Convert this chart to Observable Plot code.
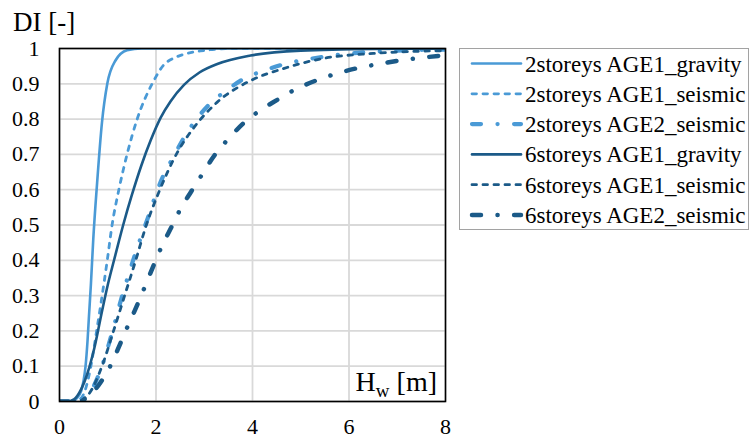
<!DOCTYPE html>
<html>
<head>
<meta charset="utf-8">
<script src="https://cdn.jsdelivr.net/npm/d3@7"></script>
<script src="https://cdn.jsdelivr.net/npm/@observablehq/plot@0.6"></script>
<style>
  html, body { margin: 0; padding: 0; background: #fff; }
  #chart { width: 750px; height: 439px; }
  #chart svg text { font-family: "Liberation Serif", "DejaVu Serif", "Noto Serif", serif !important; }
</style>
</head>
<body>
<div id="chart"></div>
<script>
// ---- data ----
const seriesNames = [
  "2storeys AGE1_gravity",
  "2storeys AGE1_seismic",
  "2storeys AGE2_seismic",
  "6storeys AGE1_gravity",
  "6storeys AGE1_seismic",
  "6storeys AGE2_seismic"
];

const H_2s_AGE1_gravity  = [0, 0.25, 0.35, 0.45, 0.50, 0.54, 0.58, 0.61, 0.65, 0.70, 0.78, 0.88, 0.99, 1.16, 1.40, 1.7, 8];
const DI_2s_AGE1_gravity = [0, 0, 0.008, 0.03, 0.06, 0.10, 0.17, 0.24, 0.33, 0.46, 0.62, 0.79, 0.90, 0.966, 0.995, 1, 1];

const H_2s_AGE1_seismic  = [0, 0.3, 0.45, 0.55, 0.65, 0.77, 0.85, 0.99, 1.09, 1.23, 1.40, 1.61, 1.92, 2.23, 2.92, 3.6, 8];
const DI_2s_AGE1_seismic = [0, 0, 0.01, 0.04, 0.10, 0.20, 0.27, 0.40, 0.50, 0.60, 0.70, 0.80, 0.90, 0.962, 0.993, 1, 1];

const H_2s_AGE2_seismic  = [0, 0.35, 0.6, 0.88, 1.1, 1.30, 1.42, 1.56, 1.70, 1.85, 1.99, 2.12, 2.37, 2.57, 2.84, 3.13, 3.47, 3.83, 4.23, 4.64, 5.5, 6.4, 8];
const DI_2s_AGE2_seismic = [0, 0, 0.02, 0.10, 0.20, 0.30, 0.354, 0.414, 0.47, 0.527, 0.584, 0.63, 0.695, 0.745, 0.80, 0.845, 0.882, 0.915, 0.937, 0.955, 0.977, 0.99, 0.997];

const H_6s_AGE1_gravity  = [0, 0.15, 0.3, 0.45, 0.58, 0.72, 0.88, 1.0, 1.13, 1.33, 1.5, 1.7, 1.89, 2.1, 2.3, 2.58, 2.9, 3.27, 3.96, 5.0, 6.5, 8];
const DI_6s_AGE1_gravity = [0, 0, 0.006, 0.035, 0.08, 0.15, 0.255, 0.33, 0.40, 0.505, 0.585, 0.67, 0.74, 0.805, 0.85, 0.897, 0.932, 0.956, 0.98, 0.994, 0.999, 1];

const H_6s_AGE1_seismic  = [0, 0.35, 0.6, 0.88, 1.12, 1.35, 1.58, 1.80, 2.05, 2.44, 2.78, 3.27, 3.96, 4.64, 5.47, 6.5, 8];
const DI_6s_AGE1_seismic = [0, 0, 0.02, 0.10, 0.20, 0.30, 0.40, 0.50, 0.59, 0.705, 0.775, 0.848, 0.909, 0.943, 0.972, 0.986, 0.994];

const H_6s_AGE2_seismic  = [0, 0.35, 0.56, 0.85, 1.08, 1.26, 1.42, 1.60, 1.94, 2.11, 2.32, 2.51, 2.73, 2.94, 3.21, 3.50, 3.81, 4.15, 4.52, 4.90, 5.31, 5.72, 6.13, 6.57, 7.0, 7.45, 8];
const DI_6s_AGE2_seismic = [0, 0, 0.01, 0.054, 0.108, 0.164, 0.215, 0.27, 0.382, 0.437, 0.494, 0.546, 0.595, 0.64, 0.697, 0.744, 0.788, 0.824, 0.855, 0.885, 0.909, 0.928, 0.943, 0.955, 0.965, 0.973, 0.981];

const xTicks = [0, 2, 4, 6, 8];
const yTicks = [0, 0.1, 0.2, 0.3, 0.4, 0.5, 0.6, 0.7, 0.8, 0.9, 1];

// ---- styles ----
const LIGHT = "#4a9ad6";
const DARK = "#1b5a88";
const styles = [
  {stroke: LIGHT, width: 2.6, dash: null},
  {stroke: LIGHT, width: 2.8, dash: "4.5,6.5"},
  {stroke: LIGHT, width: 4.2, dash: "9,16.5,0.1,16.5"},
  {stroke: DARK,  width: 2.6, dash: null},
  {stroke: DARK,  width: 2.8, dash: "4.5,6.5"},
  {stroke: DARK,  width: 4.5, dash: "9,16.5,0.1,16.5"}
];

const pairs = [
  [H_2s_AGE1_gravity, DI_2s_AGE1_gravity],
  [H_2s_AGE1_seismic, DI_2s_AGE1_seismic],
  [H_2s_AGE2_seismic, DI_2s_AGE2_seismic],
  [H_6s_AGE1_gravity, DI_6s_AGE1_gravity],
  [H_6s_AGE1_seismic, DI_6s_AGE1_seismic],
  [H_6s_AGE2_seismic, DI_6s_AGE2_seismic]
];
const tables = pairs.map(([hs, ds], i) => hs.map((h, j) => ({series: seriesNames[i], H: h, DI: ds[j]})));

const FONT = "\"Liberation Serif\", \"DejaVu Serif\", \"Noto Serif\", serif";

const lineMarks = tables.map((t, i) => Plot.line(t, {
  x: "H", y: "DI",
  stroke: styles[i].stroke,
  strokeWidth: styles[i].width,
  strokeDasharray: styles[i].dash,
  strokeLinecap: "round",
  strokeLinejoin: "round",
  curve: "monotone-x",
  clip: true
}));

const svg = Plot.plot({
  width: 750,
  height: 439,
  marginLeft: 59,
  marginRight: 305,
  marginTop: 48,
  marginBottom: 38,
  style: {fontFamily: FONT, fontSize: "22px", color: "#000", background: "#fff", overflow: "visible"},
  x: {domain: [0, 8], ticks: xTicks, tickSize: 0, tickPadding: 17, label: null, tickFormat: d3.format("~g")},
  y: {domain: [0, 1], ticks: yTicks, tickSize: 0, tickPadding: 20, label: null, tickFormat: d3.format("~g")},
  marks: [
    Plot.ruleX(xTicks, {stroke: "#d9d9d9", strokeWidth: 1.8}),
    Plot.ruleY(yTicks, {stroke: "#d9d9d9", strokeWidth: 1.8}),
    ...lineMarks,
    Plot.frame({stroke: "#000", strokeWidth: 1.6})
  ]
});

document.getElementById("chart").appendChild(svg);

const root = d3.select(svg);
root.selectAll("text").style("font-family", FONT);

// y axis title
root.append("text")
  .attr("x", 13).attr("y", 31)
  .attr("text-anchor", "start")
  .style("font-family", FONT).attr("font-size", 27).attr("fill", "#000")
  .text("DI [-]");

// x axis title inside plot
const xt = root.append("text")
  .attr("x", 437).attr("y", 391)
  .attr("text-anchor", "end")
  .style("font-family", FONT).attr("font-size", 28).attr("fill", "#000");
xt.append("tspan").text("H");
xt.append("tspan").attr("font-size", 19).attr("dy", 6).text("w");
xt.append("tspan").attr("dy", -6).text(" [m]");

// legend
const lg = root.append("g");
lg.append("rect")
  .attr("x", 459.5).attr("y", 48.5).attr("width", 289).attr("height", 181)
  .attr("fill", "#fff").attr("stroke", "#444").attr("stroke-width", 1)
  .attr("stroke-dasharray", "1,1");
seriesNames.forEach((name, i) => {
  const y = 63.5 + i * 30.3;
  lg.append("line")
    .attr("x1", 472).attr("x2", 521).attr("y1", y).attr("y2", y)
    .attr("stroke", styles[i].stroke)
    .attr("stroke-width", styles[i].width)
    .attr("stroke-dasharray", styles[i].dash)
    .attr("stroke-linecap", "round");
  lg.append("text")
    .attr("x", 525).attr("y", y)
    .attr("dy", "0.35em")
    .attr("text-anchor", "start")
    .style("font-family", FONT).attr("font-size", 23).attr("fill", "#000")
    .text(name);
});
</script>
</body>
</html>
